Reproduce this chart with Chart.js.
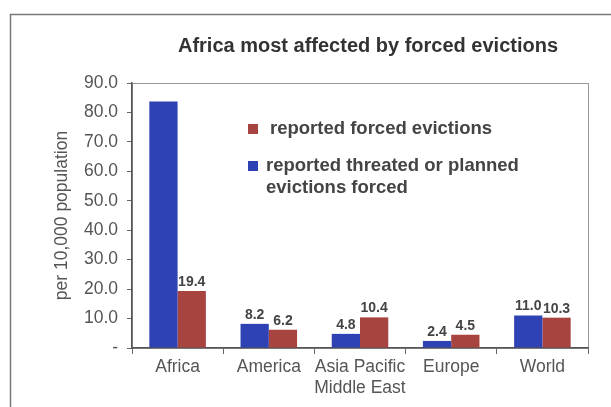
<!DOCTYPE html>
<html>
<head>
<meta charset="utf-8">
<script src="https://cdn.jsdelivr.net/npm/chart.js@4"></script>
<style>
  html, body { margin: 0; padding: 0; background: #fff; }
  #wrap { position: relative; width: 611px; height: 407px; overflow: hidden; }
</style>
</head>
<body>
<div id="wrap"><canvas id="chart" width="611" height="407"></canvas></div>
<script>
(function(Chart){

    // categories and series
    var regions = ['Africa', 'America', ['Asia Pacific', 'Middle East'], 'Europe', 'World'];
    var threatened = [83.7, 8.2, 4.8, 2.4, 11.0];
    var reported = [19.4, 6.2, 10.4, 4.5, 10.3];
    // which bars carry a value label (africa blue has none)
    var threatenedShown = [false, true, true, true, true];
    var reportedShown = [true, true, true, true, true];

    var yTicks = [0, 10, 20, 30, 40, 50, 60, 70, 80, 90];

    var BLUE = '#2f42b3';
    var RED = '#a8443f';
    var GREY = '#555';
    var FONT = '"Liberation Sans", Arial, sans-serif';

    // outer frame + plot frame
    var framePlugin = {
        id: 'frames',
        beforeDraw: function(chart) {
            var ctx = chart.ctx, a = chart.chartArea;
            ctx.save();
            ctx.strokeStyle = '#777';
            ctx.lineWidth = 1.5;
            ctx.strokeRect(10.5, 14.5, 700, 500);
            ctx.strokeStyle = '#999';
            ctx.lineWidth = 1;
            ctx.strokeRect(Math.round(a.left) + 0.5, Math.round(a.top) + 0.5, a.right - a.left, a.bottom - a.top);
            ctx.restore();
        }
    };

    // title, bar values and the in-plot legend
    var textPlugin = {
        id: 'texts',
        afterDraw: function(chart) {
            var ctx = chart.ctx;
            ctx.save();
            ctx.fillStyle = '#333';
            ctx.font = 'bold 20px ' + FONT;
            ctx.textAlign = 'center';
            ctx.textBaseline = 'middle';
            ctx.fillText('Africa most affected by forced evictions', 368, 46);

            var shown = [threatenedShown, reportedShown];
            ctx.font = 'bold 14px ' + FONT;
            ctx.fillStyle = '#444';
            ctx.textBaseline = 'bottom';
            chart.data.datasets.forEach(function(ds, di) {
                chart.getDatasetMeta(di).data.forEach(function(bar, i) {
                    if (!shown[di][i]) return;
                    ctx.fillText(ds.data[i].toFixed(1), bar.x, bar.y - 2);
                });
            });

            // legend: reported first, then threatened (two lines)
            ctx.font = 'bold 18.5px ' + FONT;
            ctx.textAlign = 'left';
            ctx.textBaseline = 'middle';
            var items = [
                { ds: chart.data.datasets[1], y: 129, x: 270, lines: ['reported forced evictions'] },
                { ds: chart.data.datasets[0], y: 166, x: 266, lines: ['reported threated or planned', 'evictions forced'] }
            ];
            items.forEach(function(it) {
                ctx.fillStyle = it.ds.backgroundColor;
                ctx.fillRect(248, it.y - 5, 10, 10);
                ctx.fillStyle = '#444';
                it.lines.forEach(function(t, k) {
                    ctx.fillText(t, it.x, it.y + k * 22);
                });
            });
            ctx.restore();
        }
    };

    var ctx = document.getElementById('chart').getContext('2d');

    var chart = new Chart(ctx, {
        type: 'bar',
        data: {
            labels: regions,
            datasets: [{
                label: 'reported threated or planned evictions forced',
                data: threatened,
                backgroundColor: BLUE,
                categoryPercentage: 0.62,
                barPercentage: 1.0
            },
            {
                label: 'reported forced evictions',
                data: reported,
                backgroundColor: RED,
                categoryPercentage: 0.62,
                barPercentage: 1.0
            }]
        },
        options: {
            responsive: false,
            animation: false,
            layout: { padding: { top: 83, right: 23, left: 0, bottom: 0 } },
            plugins: {
                legend: { display: false },
                title: { display: false },
                tooltip: { enabled: false }
            },
            scales: {
                x: {
                    afterFit: function(s) { s.height = 407 - 348; },
                    grid: { drawOnChartArea: false, drawTicks: true, tickLength: 6, color: '#666', offset: true },
                    border: { display: true, color: '#555', width: 1.5 },
                    ticks: {
                        color: GREY,
                        padding: 3,
                        autoSkip: false,
                        maxRotation: 0,
                        minRotation: 0,
                        font: { family: FONT, size: 17.5 }
                    }
                },
                y: {
                    min: 0,
                    max: 90,
                    afterFit: function(s) { s.width = 132; },
                    afterBuildTicks: function(s) {
                        s.ticks = yTicks.map(function(v) { return { value: v }; });
                    },
                    grid: { drawOnChartArea: false, drawTicks: true, tickLength: 5, color: '#666' },
                    border: { display: true, color: '#555', width: 1.5 },
                    ticks: {
                        color: GREY,
                        padding: 9,
                        font: { family: FONT, size: 17.5 },
                        callback: function(v) { return v === 0 ? '-' : v.toFixed(1); }
                    },
                    title: {
                        display: true,
                        text: 'per 10,000 population',
                        color: GREY,
                        padding: { top: 52, bottom: 0 },
                        font: { family: FONT, size: 17.5 }
                    }
                }
            }
        },
        plugins: [framePlugin, textPlugin]
    });

})(Chart);
</script>
</body>
</html>
